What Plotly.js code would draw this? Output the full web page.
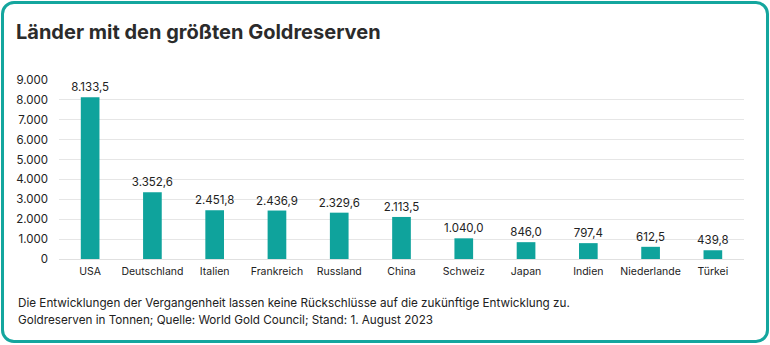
<!DOCTYPE html>
<html><head><meta charset="utf-8">
<script src="https://cdn.plot.ly/plotly-3.0.1.min.js"></script>
<style>
html,body{margin:0;padding:0;background:#fff;}
#wrap{position:relative;width:770px;height:345px;}
#chart{position:absolute;left:0;top:0;width:770px;height:345px;}
#frame{position:absolute;left:1px;top:1px;width:768px;height:342px;box-sizing:border-box;border:3px solid #14a69e;border-radius:13px;pointer-events:none;}
</style></head>
<body>
<div id="wrap"><div id="chart"></div><div id="frame"></div></div>
<script>
const countries = ["USA","Deutschland","Italien","Frankreich","Russland","China","Schweiz","Japan","Indien","Niederlande","Türkei"];
const reserves = [8133.5,3352.6,2451.8,2436.9,2329.6,2113.5,1040.0,846.0,797.4,612.5,439.8];
const yTicks = [0,1000,2000,3000,4000,5000,6000,7000,8000,9000];
const titleText = "Länder mit den größten Goldreserven";
const note1 = "Die Entwicklungen der Vergangenheit lassen keine Rückschlüsse auf die zukünftige Entwicklung zu.";
const note2 = "Goldreserven in Tonnen; Quelle: World Gold Council; Stand: 1. August 2023";

const font = "Inter, 'Open Sans', Arial, sans-serif";
const trace = {
  type: "bar", x: countries, y: reserves,
  marker: {color: "#0fa39c"},
  width: 0.3,
  text: reserves, texttemplate: "%{y:,.1f}", textposition: "outside",
  constraintext: "none",
  textfont: {family: font, size: 11.5, color: "#222"},
  cliponaxis: false, hoverinfo: "skip"
};
const plotL = 59, plotR = 26, plotT = 80, plotB = 86;
const plotW = 770 - plotL - plotR;
const plotH = 345 - plotT - plotB;
const layout = {
  width: 770, height: 345,
  margin: {l: plotL, r: plotR, t: plotT, b: plotB},
  paper_bgcolor: "rgba(0,0,0,0)", plot_bgcolor: "rgba(0,0,0,0)",
  separators: ",.",
  showlegend: false,
  title: {text: "<b>" + titleText + "</b>", x: 16 / 770, xref: "container", xanchor: "left", y: 1 - 32 / 345, yanchor: "middle",
          font: {family: font, size: 20, color: "#2b2b2b"}},
  xaxis: {type: "category", tickfont: {family: font, size: 10.5, color: "#222"}, ticks: "", ticklabelstandoff: 4, showline: false, showgrid: false, fixedrange: true},
  yaxis: {range: [0, 9000], tickvals: yTicks, tickformat: ",d", tickfont: {family: font, size: 11.5, color: "#222"},
          gridcolor: "#e6e6e6", gridwidth: 1, zeroline: true, zerolinecolor: "#e0e0e0", zerolinewidth: 1, ticklabelstandoff: 10, showline: false, fixedrange: true},
  annotations: [
    {text: note1, xref: "paper", yref: "paper", x: (16 - plotL) / plotW, y: (345 - plotB - 303) / plotH, xanchor: "left", yanchor: "middle", showarrow: false, font: {family: font, size: 11.7, color: "#222"}},
    {text: note2, xref: "paper", yref: "paper", x: (16 - plotL) / plotW, y: (345 - plotB - 320) / plotH, xanchor: "left", yanchor: "middle", showarrow: false, font: {family: font, size: 11.7, color: "#222"}}
  ]
};
Plotly.newPlot("chart", [trace], layout, {displayModeBar: false, staticPlot: true});
</script>
</body></html>
